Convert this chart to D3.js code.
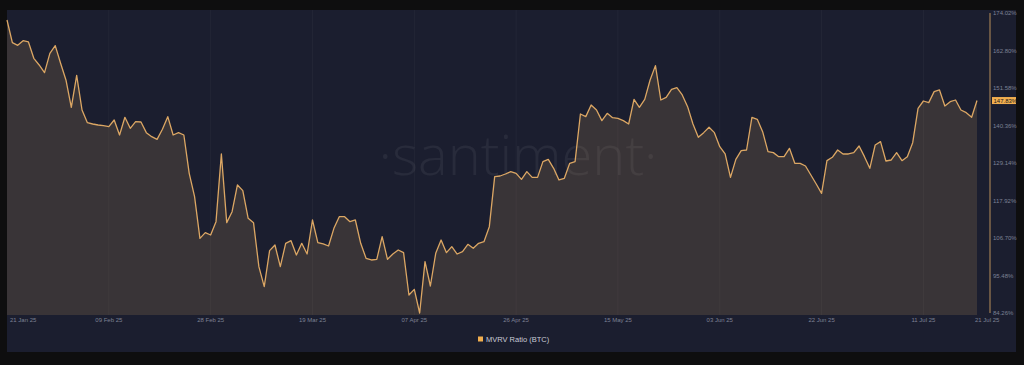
<!DOCTYPE html>
<html>
<head>
<meta charset="utf-8">
<script src="https://cdn.jsdelivr.net/npm/d3@7"></script>
<style>
  html, body { margin: 0; padding: 0; background: #0e0e0f; }
  svg { display: block; font-family: "Liberation Sans", Arial, sans-serif; }
</style>
</head>
<body>
<svg id="chart" width="1024" height="365"></svg>
<script>
"use strict";

// ------------------------- Data -------------------------

const startDate = "2025-01-21";
const seriesName = "MVRV Ratio (BTC)";

// daily MVRV ratio (%), 21 Jan 25 .. 21 Jul 25
const mvrvValues = [
    171.93, 165.15, 164.35, 165.75, 165.35, 160.46, 158.47, 156.17, 161.96, 164.25,
    158.97, 153.98, 145.80, 155.37, 145.00, 141.21, 140.81, 140.51, 140.31, 140.01,
    142.01, 137.52, 142.81, 139.52, 141.51, 141.41, 138.22, 137.02, 136.22, 139.22,
    143.01, 137.52, 138.22, 137.52, 126.05, 119.07, 106.60, 108.30, 107.60, 111.59,
    131.84, 111.29, 114.58, 122.56, 120.86, 112.59, 111.29, 98.12, 92.14, 102.91,
    104.61, 98.12, 105.11, 105.90, 101.61, 105.11, 101.91, 112.09, 105.31, 104.91,
    104.31, 109.59, 113.08, 113.08, 111.59, 112.09, 105.11, 100.62, 100.12, 100.32,
    107.10, 100.32, 101.91, 103.11, 102.31, 89.65, 91.34, 84.26, 99.62, 92.34,
    102.11, 106.10, 102.31, 104.11, 101.91, 102.61, 104.81, 103.61, 105.11, 105.60,
    110.09, 125.05, 125.25, 125.85, 126.55, 126.05, 124.26, 126.55, 124.85, 124.85,
    129.54, 130.24, 127.55, 124.06, 124.56, 129.04, 129.54, 143.80, 143.01, 146.50,
    145.00, 141.81, 144.00, 142.71, 142.51, 141.81, 140.81, 148.19, 145.80, 148.19,
    153.98, 158.27, 147.99, 148.79, 151.19, 151.68, 149.49, 146.00, 140.81, 136.82,
    138.22, 139.82, 138.22, 134.03, 131.84, 124.85, 130.24, 132.83, 133.03, 142.81,
    142.21, 138.52, 132.53, 132.24, 131.04, 131.04, 133.53, 129.04, 129.04, 128.25,
    125.55, 122.86, 120.07, 129.84, 130.84, 133.03, 131.84, 131.84, 132.24, 134.23,
    131.04, 127.55, 134.53, 135.53, 129.74, 130.04, 132.24, 129.84, 131.04, 135.23,
    145.50, 147.69, 147.20, 150.49, 150.99, 146.20, 147.50, 147.99, 145.00, 144.20,
    142.81, 147.83
];

const xTickDates = [
    "2025-01-21", "2025-02-09", "2025-02-28", "2025-03-19", "2025-04-07", "2025-04-26",
    "2025-05-15", "2025-06-03", "2025-06-22", "2025-07-11", "2025-07-21"
];

const yTickValues = [84.26, 95.48, 106.70, 117.92, 129.14, 140.36, 151.58, 162.80, 174.02];

// ------------------------- Setup -------------------------

const parseDay = d3.utcParse("%Y-%m-%d");
const formatDay = d3.utcFormat("%d %b %y");
const formatPct = v => v.toFixed(2) + "%";

const start = parseDay(startDate);
const points = mvrvValues.map((v, i) => ({ date: d3.utcDay.offset(start, i), value: v }));
const lastPoint = points[points.length - 1];

const colors = {
    panel: "#1b1e2f",
    line: "#dca764",
    fill: "#dca764",
    tick: "#7d8194",
    legendText: "#c9cbd6",
    badge: "#f1ae4f"
};

const panel = { left: 7, top: 10, right: 1016, bottom: 352 };
const plot = { left: 7, top: 13, right: 977, bottom: 313, base: 315 };
const axisX = 990;

const svg = d3.select("#chart");

svg.append("rect")
    .attr("x", panel.left)
    .attr("y", panel.top)
    .attr("width", panel.right - panel.left)
    .attr("height", panel.bottom - panel.top)
    .attr("fill", colors.panel);

const x = d3.scaleUtc()
    .domain(d3.extent(points, p => p.date))
    .range([plot.left, plot.right]);

const y = d3.scaleLinear()
    .domain([yTickValues[0], yTickValues[yTickValues.length - 1]])
    .range([plot.bottom, plot.top]);

// ------------------------- Grid & watermark -------------------------

svg.append("g")
    .selectAll("line")
    .data(xTickDates.slice(1, -1).map(parseDay))
    .join("line")
    .attr("x1", d => x(d))
    .attr("x2", d => x(d))
    .attr("y1", panel.top)
    .attr("y2", plot.base)
    .attr("stroke", "#ffffff")
    .attr("stroke-opacity", 0.035);

svg.append("text")
    .attr("x", 518)
    .attr("y", 175)
    .attr("text-anchor", "middle")
    .attr("font-family", "'Open Sans', sans-serif")
    .attr("font-weight", 300)
    .attr("font-size", 56)
    .attr("fill", "#ffffff")
    .attr("fill-opacity", 0.06)
    .text("\u00b7santiment\u00b7");

// ------------------------- Series -------------------------

const area = d3.area()
    .x(p => x(p.date))
    .y0(plot.base)
    .y1(p => y(p.value));

const line = d3.line()
    .x(p => x(p.date))
    .y(p => y(p.value));

svg.append("path")
    .datum(points)
    .attr("d", area)
    .attr("fill", colors.fill)
    .attr("fill-opacity", 0.16);

svg.append("path")
    .datum(points)
    .attr("d", line)
    .attr("fill", "none")
    .attr("stroke", colors.line)
    .attr("stroke-width", 1.3)
    .attr("stroke-linejoin", "round");

// ------------------------- Axes -------------------------

const xTicks = xTickDates.map(parseDay);
svg.append("g")
    .selectAll("text")
    .data(xTicks)
    .join("text")
    .attr("x", (d, i) => i === 0 ? plot.left + 3 : i === xTicks.length - 1 ? x(d) - 2 : x(d))
    .attr("y", 322)
    .attr("text-anchor", (d, i) => i === 0 || i === xTicks.length - 1 ? "start" : "middle")
    .attr("font-size", 6)
    .attr("fill", colors.tick)
    .text(d => formatDay(d));

svg.append("line")
    .attr("x1", axisX)
    .attr("x2", axisX)
    .attr("y1", plot.top)
    .attr("y2", plot.bottom)
    .attr("stroke", colors.line)
    .attr("stroke-opacity", 0.55)
    .attr("stroke-width", 1.5);

svg.append("g")
    .selectAll("text")
    .data(yTickValues)
    .join("text")
    .attr("x", axisX + 3)
    .attr("y", d => y(d) + 2)
    .attr("font-size", 6)
    .attr("fill", colors.tick)
    .text(formatPct);

// current value badge
const badge = svg.append("g")
    .attr("transform", `translate(${axisX + 2},${y(lastPoint.value)})`);

badge.append("rect")
    .attr("x", 0)
    .attr("y", -3.5)
    .attr("width", 24)
    .attr("height", 7)
    .attr("fill", colors.badge);

badge.append("text")
    .attr("x", 1.5)
    .attr("y", 2)
    .attr("font-size", 6)
    .attr("fill", "#1b1b1b")
    .text(formatPct(lastPoint.value));

// ------------------------- Legend -------------------------

const legend = svg.append("g")
    .attr("transform", "translate(478,339)");

legend.append("rect")
    .attr("x", 0)
    .attr("y", -2.5)
    .attr("width", 5)
    .attr("height", 5)
    .attr("fill", colors.badge);

legend.append("text")
    .attr("x", 8)
    .attr("y", 2.7)
    .attr("font-size", 7.5)
    .attr("fill", colors.legendText)
    .text(seriesName);
</script>
</body>
</html>
